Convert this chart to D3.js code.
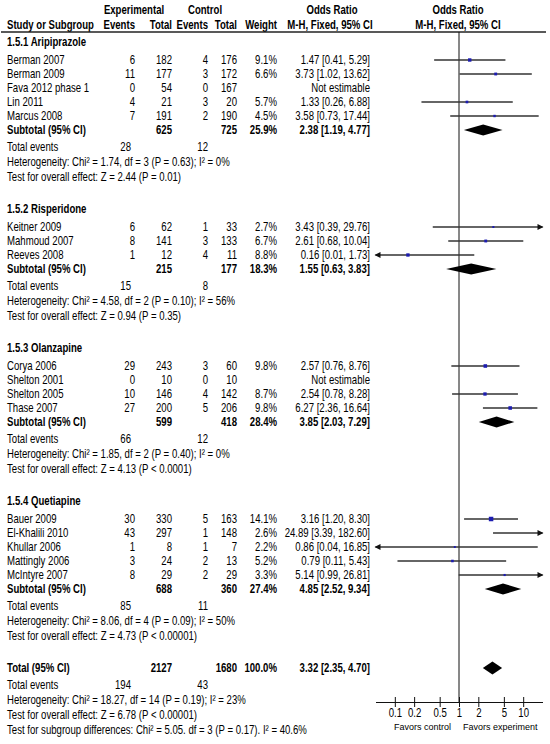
<!DOCTYPE html>
<html><head><meta charset="utf-8">
<script src="https://cdn.jsdelivr.net/npm/d3@7"></script>
<style>
body{margin:0;background:#fff}
text{font-family:"Liberation Sans",Arial,sans-serif;font-size:12px;fill:#000}
.b{font-weight:bold}
.fav{font-family:"Liberation Sans",Arial,sans-serif;font-size:9px}
</style>
</head><body><svg id="c" width="550" height="744"></svg>
<script>
const groupNames = ["1.5.1 Aripiprazole","1.5.2 Risperidone","1.5.3 Olanzapine","1.5.4 Quetiapine"];
const studyGroup = [0,0,0,0,0, 1,1,1, 2,2,2,2, 3,3,3,3,3];
const studyNames = ["Berman 2007","Berman 2009","Fava 2012 phase 1","Lin 2011","Marcus 2008",
  "Keitner 2009","Mahmoud 2007","Reeves 2008",
  "Corya 2006","Shelton 2001","Shelton 2005","Thase 2007",
  "Bauer 2009","El-Khalili 2010","Khullar 2006","Mattingly 2006","McIntyre 2007"];
const expEvents  = [6,11,0,4,7, 6,8,1, 29,0,10,27, 30,43,1,3,8];
const expTotal   = [182,177,54,21,191, 62,141,12, 243,10,146,200, 330,297,8,24,29];
const ctrlEvents = [4,3,0,3,2, 1,3,4, 3,0,4,5, 5,1,1,2,2];
const ctrlTotal  = [176,172,167,20,190, 33,133,11, 60,10,142,206, 163,148,7,13,29];
const weights    = [9.1,6.6,null,5.7,4.5, 2.7,6.7,8.8, 9.8,null,8.7,9.8, 14.1,2.6,2.2,5.2,3.3];
const orValue    = [1.47,3.73,null,1.33,3.58, 3.43,2.61,0.16, 2.57,null,2.54,6.27, 3.16,24.89,0.86,0.79,5.14];
const orLow      = [0.41,1.02,null,0.26,0.73, 0.39,0.68,0.01, 0.76,null,0.78,2.36, 1.20,3.39,0.04,0.11,0.99];
const orHigh     = [5.29,13.62,null,6.88,17.44, 29.76,10.04,1.73, 8.76,null,8.28,16.64, 8.30,182.60,16.85,5.43,26.81];

const subExpTotal   = [625,215,599,688];
const subCtrlTotal  = [725,177,418,360];
const subWeight     = [25.9,18.3,28.4,27.4];
const subOR         = [2.38,1.55,3.85,4.85];
const subLow        = [1.19,0.63,2.03,2.52];
const subHigh       = [4.77,3.83,7.29,9.34];
const subExpEvents  = [28,15,66,85];
const subCtrlEvents = [12,8,12,11];
const subHet  = ["Heterogeneity: Chi² = 1.74, df = 3 (P = 0.63); I² = 0%",
                 "Heterogeneity: Chi² = 4.58, df = 2 (P = 0.10); I² = 56%",
                 "Heterogeneity: Chi² = 1.85, df = 2 (P = 0.40); I² = 0%",
                 "Heterogeneity: Chi² = 8.06, df = 4 (P = 0.09); I² = 50%"];
const subTest = ["Test for overall effect: Z = 2.44 (P = 0.01)",
                 "Test for overall effect: Z = 0.94 (P = 0.35)",
                 "Test for overall effect: Z = 4.13 (P < 0.0001)",
                 "Test for overall effect: Z = 4.73 (P < 0.00001)"];
const totalExpTotal = 2127, totalCtrlTotal = 1680, totalWeight = 100.0;
const totalOR = 3.32, totalLow = 2.35, totalHigh = 4.70;
const totalExpEvents = 194, totalCtrlEvents = 43;
const totalHet = "Heterogeneity: Chi² = 18.27, df = 14 (P = 0.19); I² = 23%";
const totalTest = "Test for overall effect: Z = 6.78 (P < 0.00001)";
const subgroupTest = "Test for subgroup differences: Chi² = 5.05. df = 3 (P = 0.17). I² = 40.6%";
const tickValues = [0.1,0.2,0.5,1,2,5,10];
const tickLabels = ["0.1","0.2","0.5","1","2","5","10"];
const favorLabels = ["Favors control","Favors experiment"];

const svg = d3.select("#c");
const x = d3.scaleLog().domain([0.05,20]).range([375.5,542.5]);
const f2 = d3.format(".2f"), f1 = d3.format(".1f");
const orText = (o,l,h)=> `${f2(o)} [${f2(l)}, ${f2(h)}]`;
const NARROW = 0.8;

// column positions
const C = {name:7, ee:135, et:172, ce:208, ct:237, w:277, or:370, teE:131, teC:208};

// layout
const rows=[]; let y=42;
groupNames.forEach((g,gi)=>{
  if(gi>0) y+=32;
  rows.push({type:'group',y,gi});
  studyGroup.map((s,i)=>s===gi?i:-1).filter(i=>i>=0).forEach((i,k)=>{
    y += k===0?18:14; rows.push({type:'study',y,i});
  });
  y+=14; rows.push({type:'sub',y,gi});
  y+=17; rows.push({type:'events',y,gi});
  y+=15; rows.push({type:'het',y,gi});
  y+=15; rows.push({type:'test',y,gi});
});
y+=32; rows.push({type:'total',y});
y+=17; rows.push({type:'tevents',y});
y+=15; rows.push({type:'thet',y});
y+=15; rows.push({type:'ttest',y});
y+=15; rows.push({type:'sgtest',y});
const axisY = 702;

function txt(xp,yp,s,anchor,cls){
  svg.append("text").attr("transform",`translate(${xp},${yp}) scale(${NARROW},1)`).attr("dy","0.36em")
    .attr("text-anchor",anchor||"start").attr("class",cls||null).text(s);
}

// headers
txt(134,10,"Experimental","middle","b");
txt(205,10,"Control","middle","b");
txt(332,10,"Odds Ratio","middle","b");
txt(458,10,"Odds Ratio","middle","b");
txt(C.name,25,"Study or Subgroup","start","b");
txt(C.ee,25,"Events","end","b");
txt(C.et,25,"Total","end","b");
txt(C.ce,25,"Events","end","b");
txt(C.ct,25,"Total","end","b");
txt(C.w,25,"Weight","end","b");
txt(330,25,"M-H, Fixed, 95% CI","middle","b");
txt(458,25,"M-H, Fixed, 95% CI","middle","b");
svg.append("line").attr("x1",1).attr("x2",546).attr("y1",32).attr("y2",32)
  .attr("stroke","#222").attr("stroke-width",1.6);
// reference line
svg.append("line").attr("x1",x(1)).attr("x2",x(1)).attr("y1",32).attr("y2",axisY)
  .attr("stroke","#111").attr("stroke-width",1);

const [dMin,dMax] = x.domain();
function ciLine(yp,o,l,h,w){
  const x1 = x(Math.max(l,dMin)), x2 = x(Math.min(h,dMax));
  svg.append("line").attr("x1",x1).attr("x2",x2).attr("y1",yp).attr("y2",yp)
    .attr("stroke","#333").attr("stroke-width",1.3);
  if(h>dMax) svg.append("path").attr("d",`M${x2+1},${yp}l-6,-3v6z`).attr("fill","#111");
  if(l<dMin) svg.append("path").attr("d",`M${x1-1},${yp}l6,-3v6z`).attr("fill","#111");
  if(o>=dMin && o<=dMax){
    const s = 1.4 + w*0.22;
    svg.append("rect").attr("x",x(o)-s/2).attr("y",yp-s/2).attr("width",s).attr("height",s)
      .attr("fill","#1c1cb0");
  }
}
function diamond(yp,o,l,h,hh){
  svg.append("path").attr("d",`M${x(l)},${yp}L${x(o)},${yp-hh}L${x(h)},${yp}L${x(o)},${yp+hh}Z`)
    .attr("fill","#000");
}

rows.forEach(r=>{
  const yp=r.y;
  if(r.type==='group') txt(C.name,yp,groupNames[r.gi],"start","b");
  else if(r.type==='study'){
    const i=r.i;
    txt(C.name,yp,studyNames[i]);
    txt(C.ee,yp,expEvents[i],"end");
    txt(C.et,yp,expTotal[i],"end");
    txt(C.ce,yp,ctrlEvents[i],"end");
    txt(C.ct,yp,ctrlTotal[i],"end");
    if(weights[i]!=null){
      txt(C.w,yp,f1(weights[i])+"%","end");
      txt(C.or,yp,orText(orValue[i],orLow[i],orHigh[i]),"end");
      ciLine(yp,orValue[i],orLow[i],orHigh[i],weights[i]);
    } else txt(C.or,yp,"Not estimable","end");
  } else if(r.type==='sub'){
    const g=r.gi;
    txt(C.name,yp,"Subtotal (95% CI)","start","b");
    txt(C.et,yp,subExpTotal[g],"end","b");
    txt(C.ct,yp,subCtrlTotal[g],"end","b");
    txt(C.w,yp,f1(subWeight[g])+"%","end","b");
    txt(C.or,yp,orText(subOR[g],subLow[g],subHigh[g]),"end","b");
    diamond(yp,subOR[g],subLow[g],subHigh[g],5.5);
  } else if(r.type==='events'){
    txt(C.name,yp,"Total events");
    txt(C.teE,yp,subExpEvents[r.gi],"end");
    txt(C.teC,yp,subCtrlEvents[r.gi],"end");
  } else if(r.type==='het') txt(C.name,yp,subHet[r.gi]);
  else if(r.type==='test') txt(C.name,yp,subTest[r.gi]);
  else if(r.type==='total'){
    txt(C.name,yp,"Total (95% CI)","start","b");
    txt(C.et,yp,totalExpTotal,"end","b");
    txt(C.ct,yp,totalCtrlTotal,"end","b");
    txt(C.w,yp,f1(totalWeight)+"%","end","b");
    txt(C.or,yp,orText(totalOR,totalLow,totalHigh),"end","b");
    diamond(yp,totalOR,totalLow,totalHigh,6.5);
  } else if(r.type==='tevents'){
    txt(C.name,yp,"Total events");
    txt(C.teE,yp,totalExpEvents,"end");
    txt(C.teC,yp,totalCtrlEvents,"end");
  } else if(r.type==='thet') txt(C.name,yp,totalHet);
  else if(r.type==='ttest') txt(C.name,yp,totalTest);
  else if(r.type==='sgtest') txt(C.name,yp,subgroupTest);
});

// axis
const ax = svg.append("g").attr("transform",`translate(0,${axisY})`)
  .call(d3.axisBottom(x).tickValues(tickValues).tickFormat((d,i)=>tickLabels[i]).tickSizeInner(5).tickSizeOuter(0));
ax.attr("font-family",null).attr("font-size",null);
ax.select(".domain").attr("stroke","#111");
ax.selectAll(".tick line").attr("y1",-5).attr("y2",5).attr("stroke","#111");
ax.selectAll(".tick text").attr("y",null).attr("dy","0.36em")
  .attr("transform",`translate(0,11) scale(${NARROW},1)`);
svg.append("text").attr("class","fav").attr("x",x(1)-8).attr("y",727).attr("dy","0.36em")
  .attr("text-anchor","end").text(favorLabels[0]);
svg.append("text").attr("class","fav").attr("x",x(1)+4).attr("y",727).attr("dy","0.36em")
  .attr("text-anchor","start").text(favorLabels[1]);
</script></body></html>
